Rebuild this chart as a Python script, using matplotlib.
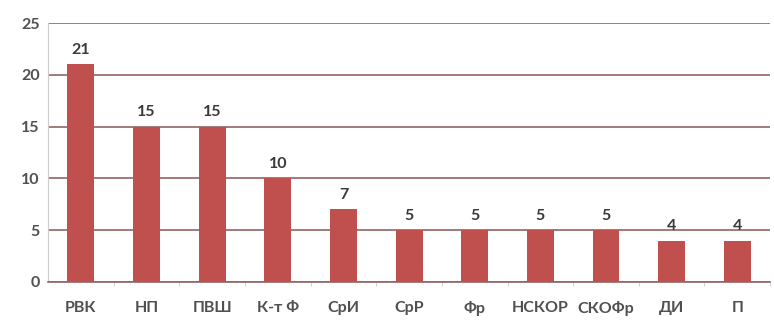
import matplotlib.pyplot as plt

categories = ['РВК', 'НП', 'ПВШ', 'К-т Ф', 'СрИ', 'СрР', 'Фр', 'НСКОР', 'СКОФр', 'ДИ', 'П']
values = [21, 15, 15, 10, 7, 5, 5, 5, 5, 4, 4]
yticks = [0, 5, 10, 15, 20, 25]

plt.rcParams['font.family'] = ['Lato', 'DejaVu Sans']

fig = plt.figure(figsize=(7.74, 3.29), dpi=100)
ax = fig.add_axes([0.062, 0.143, 0.933, 0.787])

x = range(len(categories))
ax.bar(x, values, width=0.41, color='#c0504d', zorder=3)
for i, v in enumerate(values):
    ax.text(i, v + 0.7, str(v), ha='center', va='bottom', fontsize=11.5,
            fontweight='bold', color='#3a3a3a')

ax.set_xlim(-0.5, len(categories) - 0.5)
ax.set_ylim(0, 25)
ax.set_yticks(yticks)
ax.set_xticks(list(x))
ax.set_xticklabels(categories, fontsize=11.5, fontweight='bold', color='#505050')
for lbl in ax.get_yticklabels():
    lbl.set_fontweight('bold')
ax.tick_params(axis='y', labelsize=11.5, labelcolor='#505050', length=0, pad=6)
ax.tick_params(axis='x', length=0, pad=14)
# small ticks between categories
ax.set_xticks([i + 0.5 for i in range(len(categories))], minor=True)
ax.tick_params(axis='x', which='minor', length=3, color='#cccccc')

ax.grid(axis='y', color='#946464', linewidth=1.2, zorder=0)
for s in ['top', 'right']:
    ax.spines[s].set_visible(False)
ax.spines['left'].set_color('#cccccc')
ax.spines['bottom'].set_color('#946464')
ax.spines['bottom'].set_linewidth(1.2)

fig.savefig('out.png', dpi=100)
